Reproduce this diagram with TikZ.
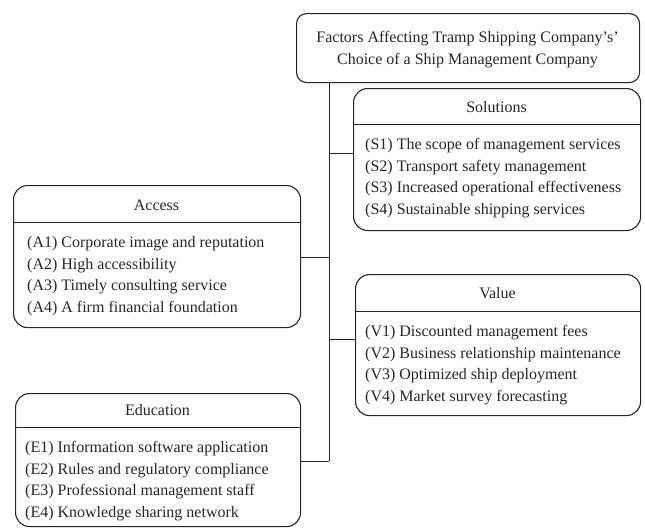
\documentclass[tikz,border=0pt]{standalone}
\usepackage{fontspec}
\setmainfont{Liberation Serif}
\begin{document}
\begin{tikzpicture}[x=1pt,y=-1pt,
  box/.style={draw=black!85, line width=1.1pt, rounded corners=14pt, anchor=north west, inner sep=0pt},
  txt/.style={anchor=base west, inner sep=0pt, font=\fontsize{16}{19}\selectfont, text=black!85},
  hdr/.style={anchor=base, inner sep=0pt, font=\fontsize{16}{19}\selectfont, text=black!85},
  conn/.style={draw=black!85, line width=0.9pt}]
\useasboundingbox (0,0) rectangle (645,528);

% top box
\node[box, rounded corners=10pt, minimum width=343pt, minimum height=69pt] (top) at (296,13) {};
\node[hdr] (t1) at (467.5,42) {Factors Affecting Tramp Shipping Company’s’};
\node[hdr] (t2) at (467.5,64) {Choice of a Ship Management Company};

% Solutions
\node[box, minimum width=287pt, minimum height=142pt] (S) at (353,88) {};
\node[hdr] (Sh) at (496.5,112) {Solutions};
\draw[conn] (S.west |- 0,124) -- (S.east |- 0,124);
\node[txt] (S1) at (365,149) {(S1) The scope of management services};
\node[txt] (S2) at (365,171) {(S2) Transport safety management};
\node[txt] (S3) at (365,192.5) {(S3) Increased operational effectiveness};
\node[txt] (S4) at (365,214) {(S4) Sustainable shipping services};

% Access
\node[box, minimum width=287pt, minimum height=142pt] (A) at (13,185) {};
\node[hdr] (Ah) at (156.5,210) {Access};
\draw[conn] (A.west |- 0,222) -- (A.east |- 0,222);
\node[txt] (A1) at (27,247) {(A1) Corporate image and reputation};
\node[txt] (A2) at (27,269) {(A2) High accessibility};
\node[txt] (A3) at (27,290.5) {(A3) Timely consulting service};
\node[txt] (A4) at (27,312) {(A4) A firm financial foundation};

% Value
\node[box, minimum width=285pt, minimum height=141pt] (V) at (355,274) {};
\node[hdr] (Vh) at (497.5,298) {Value};
\draw[conn] (V.west |- 0,311) -- (V.east |- 0,311);
\node[txt] (V1) at (365,336) {(V1) Discounted management fees};
\node[txt] (V2) at (365,358) {(V2) Business relationship maintenance};
\node[txt] (V3) at (365,379.5) {(V3) Optimized ship deployment};
\node[txt] (V4) at (365,401) {(V4) Market survey forecasting};

% Education
\node[box, minimum width=285pt, minimum height=133pt] (E) at (15,393) {};
\node[hdr] (Eh) at (157.5,415) {Education};
\draw[conn] (E.west |- 0,427) -- (E.east |- 0,427);
\node[txt] (E1) at (25,452) {(E1) Information software application};
\node[txt] (E2) at (25,474) {(E2) Rules and regulatory compliance};
\node[txt] (E3) at (25,495.5) {(E3) Professional management staff};
\node[txt] (E4) at (25,517) {(E4) Knowledge sharing network};

% connectors
\coordinate (jS) at (329,153);
\coordinate (jA) at (329,257);
\coordinate (jV) at (329,339);
\coordinate (jE) at (329,461);
\draw[conn] (top.south -| jE) -- (jE);
\draw[conn] (jS) -- (S.west |- jS);
\draw[conn] (A.east |- jA) -- (jA);
\draw[conn] (jV) -- (V.west |- jV);
\draw[conn] (E.east |- jE) -- (jE);
\end{tikzpicture}
\end{document}
